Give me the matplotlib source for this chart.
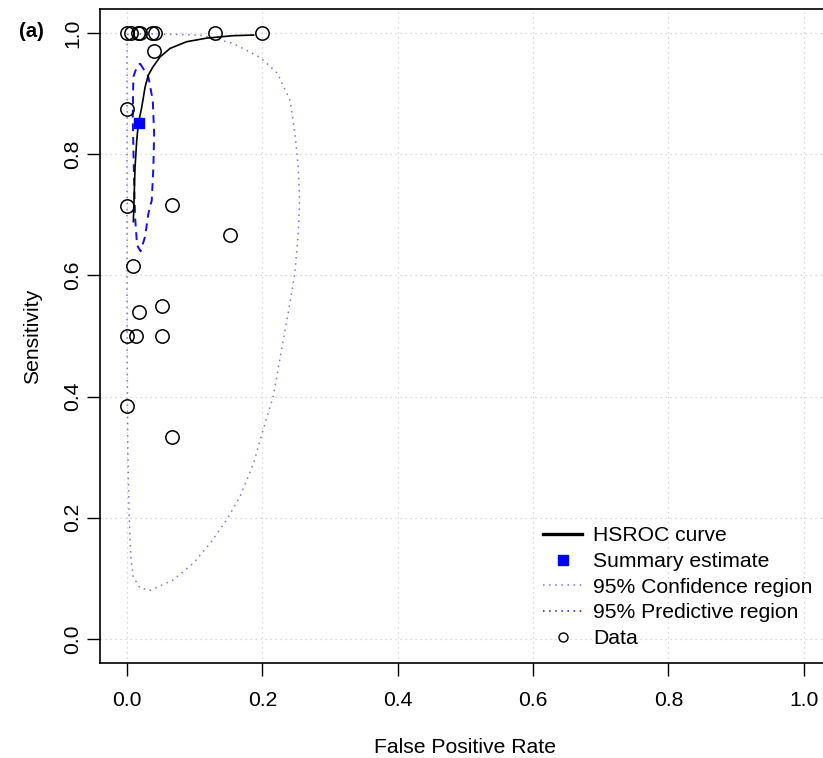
import matplotlib
matplotlib.use("Agg")
import matplotlib.pyplot as plt
from matplotlib.lines import Line2D

plt.rcParams['font.family'] = ['Liberation Sans', 'DejaVu Sans']

# study data (false positive rate, sensitivity)
data_fpr = [0.0, 0.006, 0.016, 0.019, 0.037, 0.041, 0.130, 0.200,
            0.040, 0.0, 0.0, 0.066, 0.152, 0.009, 0.018, 0.051,
            0.0, 0.013, 0.052, 0.0, 0.067]
data_sens = [1.0, 1.0, 1.0, 1.0, 1.0, 1.0, 1.0, 1.0,
             0.971, 0.875, 0.714, 0.716, 0.667, 0.615, 0.540, 0.550,
             0.500, 0.500, 0.500, 0.385, 0.333]

# summary estimate
summary_fpr = [0.018]
summary_sens = [0.851]

# HSROC curve
hsroc_fpr = [0.0093, 0.0118, 0.0143, 0.0167, 0.0217, 0.0266, 0.0315,
             0.038, 0.0488, 0.0636, 0.088, 0.118, 0.157, 0.187]
hsroc_sens = [0.689, 0.779, 0.823, 0.851, 0.878, 0.911, 0.931,
              0.944, 0.961, 0.975, 0.986, 0.992, 0.996, 0.997]

# small dashed region around the summary point
small_fpr = [0.0192, 0.0315, 0.038, 0.040, 0.0389, 0.0365, 0.0315, 0.0266,
             0.020, 0.0148, 0.0118, 0.0099, 0.0084, 0.0093, 0.0143, 0.0192]
small_sens = [0.950, 0.928, 0.889, 0.834, 0.779, 0.724, 0.702, 0.664,
              0.640, 0.650, 0.697, 0.779, 0.862, 0.928, 0.944, 0.950]

# large dotted region
big_fpr = [0.000, 0.034, 0.108, 0.157, 0.197, 0.222, 0.241, 0.248, 0.253,
           0.255, 0.253, 0.248, 0.238, 0.229, 0.216, 0.201, 0.187, 0.167,
           0.147, 0.123, 0.098, 0.068, 0.034, 0.019, 0.009, 0.0055, 0.003,
           0.001, 0.000, 0.000, 0.000, 0.000]
big_sens = [0.998, 0.999, 0.997, 0.983, 0.960, 0.934, 0.889, 0.835, 0.779,
            0.724, 0.670, 0.604, 0.537, 0.482, 0.400, 0.345, 0.290, 0.235,
            0.196, 0.158, 0.125, 0.097, 0.080, 0.084, 0.103, 0.136, 0.207,
            0.317, 0.482, 0.647, 0.889, 0.998]

ticks = [0.0, 0.2, 0.4, 0.6, 0.8, 1.0]
tick_labels = ['0.0', '0.2', '0.4', '0.6', '0.8', '1.0']

fs = 15.2
light_blue = '#7474e6'

fig = plt.figure(figsize=(8.23, 7.58), dpi=100)
ax = fig.add_axes([0.1215, 0.1253, 0.888, 0.8628])

ax.set_xlim(-0.04, 1.04)
ax.set_ylim(-0.04, 1.04)

for t in ticks:
    ax.axvline(t, color='#cccccc', lw=0.9, ls=(0, (1, 3)), zorder=0)
    ax.axhline(t, color='#cccccc', lw=0.9, ls=(0, (1, 3)), zorder=0)

ax.plot(big_fpr, big_sens, color=light_blue, lw=1.1, ls=(0, (1, 3)))
ax.plot(small_fpr, small_sens, color='#1010ee', lw=1.4, ls=(0, (4, 3)))
ax.plot(hsroc_fpr, hsroc_sens, color='black', lw=1.2)
ax.plot(data_fpr, data_sens, 'o', ms=9.6, mfc='none', mec='black', mew=1.1)
ax.plot(summary_fpr, summary_sens, 's', ms=7.2, color='#0000ff')

ax.set_xticks(ticks)
ax.set_xticklabels(tick_labels, fontsize=fs)
ax.set_yticks(ticks)
ax.set_yticklabels(tick_labels, fontsize=fs, rotation=90, va='center')
ax.tick_params(length=9.5, width=1.0)
ax.tick_params(axis='x', pad=11)
ax.tick_params(axis='y', pad=3.5)
for s in ax.spines.values():
    s.set_linewidth(1.2)

ax.set_xlabel('False Positive Rate', fontsize=fs, labelpad=20)
ax.set_ylabel('Sensitivity', fontsize=fs, labelpad=15)
fig.text(0.038, 0.958, '(a)', fontsize=fs - 0.5, fontweight='bold', ha='center', va='center')

handles = [
    Line2D([], [], color='black', lw=2.4),
    Line2D([], [], ls='none', marker='s', ms=7.2, color='#0000ff'),
    Line2D([], [], color=light_blue, lw=1.1, ls=(0, (1, 3))),
    Line2D([], [], color='#1010ee', lw=1.1, ls=(0, (1, 3))),
    Line2D([], [], ls='none', marker='o', ms=6.5, mfc='none', mec='black', mew=1.0),
]
labels = ['HSROC curve', 'Summary estimate', '95% Confidence region',
          '95% Predictive region', 'Data']
ax.legend(handles, labels, loc='lower right', bbox_to_anchor=(0.995, 0.0),
          frameon=False, fontsize=fs, handlelength=1.85, handletextpad=0.5,
          labelspacing=0.32, borderaxespad=0.3)

fig.savefig('out.png', dpi=100)
